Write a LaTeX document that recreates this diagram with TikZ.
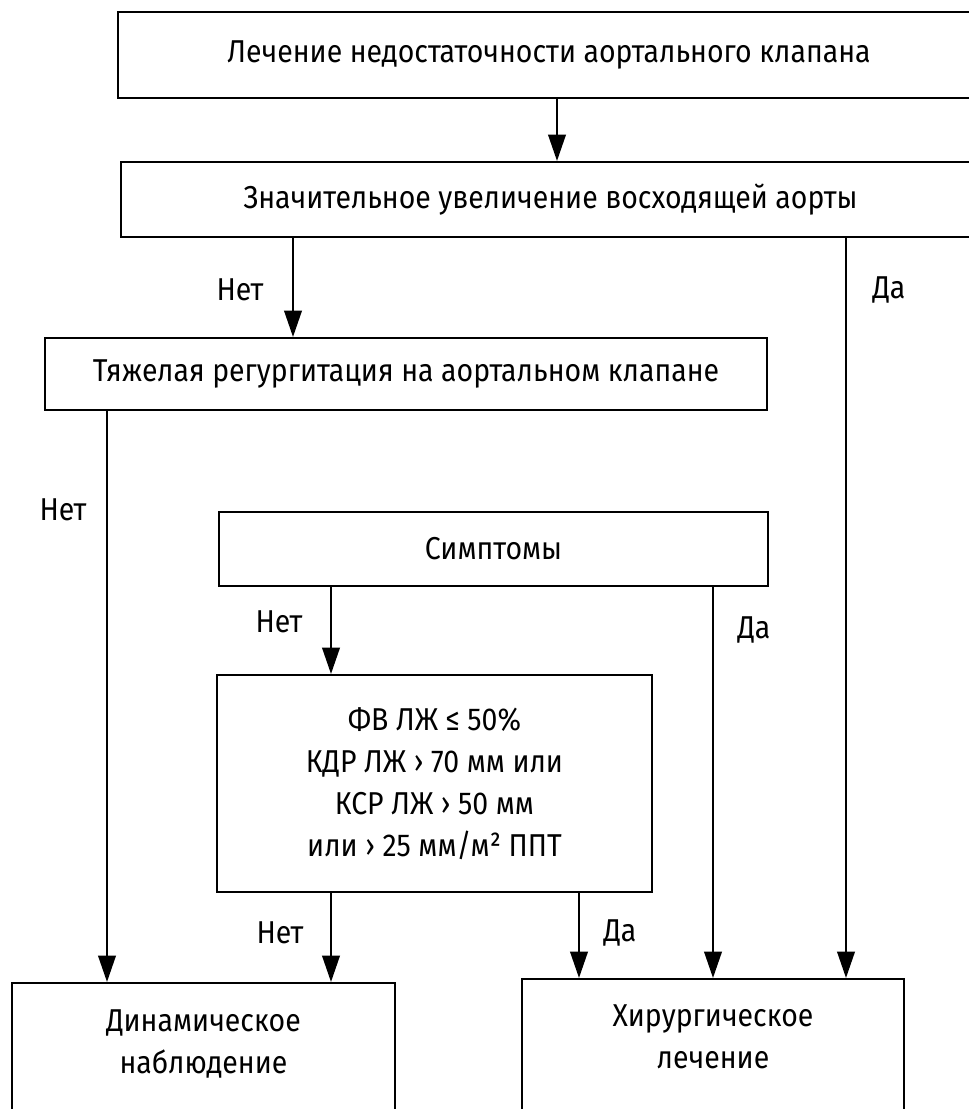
\documentclass[tikz,border=0pt]{standalone}
\usepackage{fontspec}
\setmainfont[FakeStretch=0.9]{Fira Sans}
\usepackage{tikz}
\usetikzlibrary{arrows.meta, positioning, calc}

\begin{document}
\begin{tikzpicture}[
  x=0.02cm, y=-0.02cm,
  box/.style={rectangle, draw, line width=1.2pt, inner sep=0pt, align=center, font=\fontsize{18}{24.4}\selectfont},
  lbl/.style={inner sep=0pt, font=\fontsize{18}{24.4}\selectfont},
  arrow/.style={-{Triangle[length=15pt,width=10pt]}, line width=1.2pt}
]
\useasboundingbox (0,0) rectangle (969,1109);
\clip (0,0) rectangle (969,1109);

% boxes
\node[box, minimum width=17.24cm, minimum height=1.72cm] (lech) at (549,55) {Лечение недостаточности аортального клапана};
\node[box, minimum width=17.18cm, minimum height=1.5cm] (uvel) at (550.5,199.5) {Значительное увеличение восходящей аорты};
\node[box, minimum width=14.44cm, minimum height=1.44cm] (regurg) at (406,374) {Тяжелая регургитация на аортальном клапане};
\node[box, minimum width=10.98cm, minimum height=1.48cm] (sympt) at (493.5,549) {Симптомы};
\node[box, minimum width=8.7cm, minimum height=4.34cm, font=\fontsize{18}{23.8}\selectfont] (crit) at (434.5,783.5)
  {ФВ ЛЖ ≤ 50\%\\КДР ЛЖ › 70 мм или\\КСР ЛЖ › 50 мм\\или › 25 мм/м² ППТ};
\node[box, minimum width=7.66cm, minimum height=3.2cm] (dinam) at (203.5,1063) {Динамическое\\наблюдение\\\mbox{}};
\node[box, minimum width=7.64cm, minimum height=3.16cm] (hir) at (713,1058) {Хирургическое\\лечение\\\mbox{}};

% columns of the connectors
\coordinate (c1) at (107,0);
\coordinate (c2) at (293,0);
\coordinate (c3) at (331,0);
\coordinate (c4) at (557,0);
\coordinate (c5) at (579,0);
\coordinate (c6) at (713,0);
\coordinate (c7) at (846,0);

\draw[arrow] (lech.south -| c4) -- (uvel.north -| c4);
\draw[arrow] (uvel.south -| c2) -- (regurg.north -| c2);
\draw[arrow] (uvel.south -| c7) -- (hir.north -| c7);
\draw[arrow] (regurg.south -| c1) -- (dinam.north -| c1);
\draw[arrow] (sympt.south -| c3) -- (crit.north -| c3);
\draw[arrow] (sympt.south -| c6) -- (hir.north -| c6);
\draw[arrow] (crit.south -| c3) -- (dinam.north -| c3);
\draw[arrow] (crit.south -| c5) -- (hir.north -| c5);

% labels
\node[lbl] (no1) at (240,290) {Нет};
\node[lbl] (yes1) at (889,290) {Да};
\node[lbl] (no2) at (63,510) {Нет};
\node[lbl] (no3) at (279,622) {Нет};
\node[lbl] (yes2) at (754,630) {Да};
\node[lbl] (no4) at (280,933) {Нет};
\node[lbl] (yes3) at (620,933) {Да};

\end{tikzpicture}
\end{document}
